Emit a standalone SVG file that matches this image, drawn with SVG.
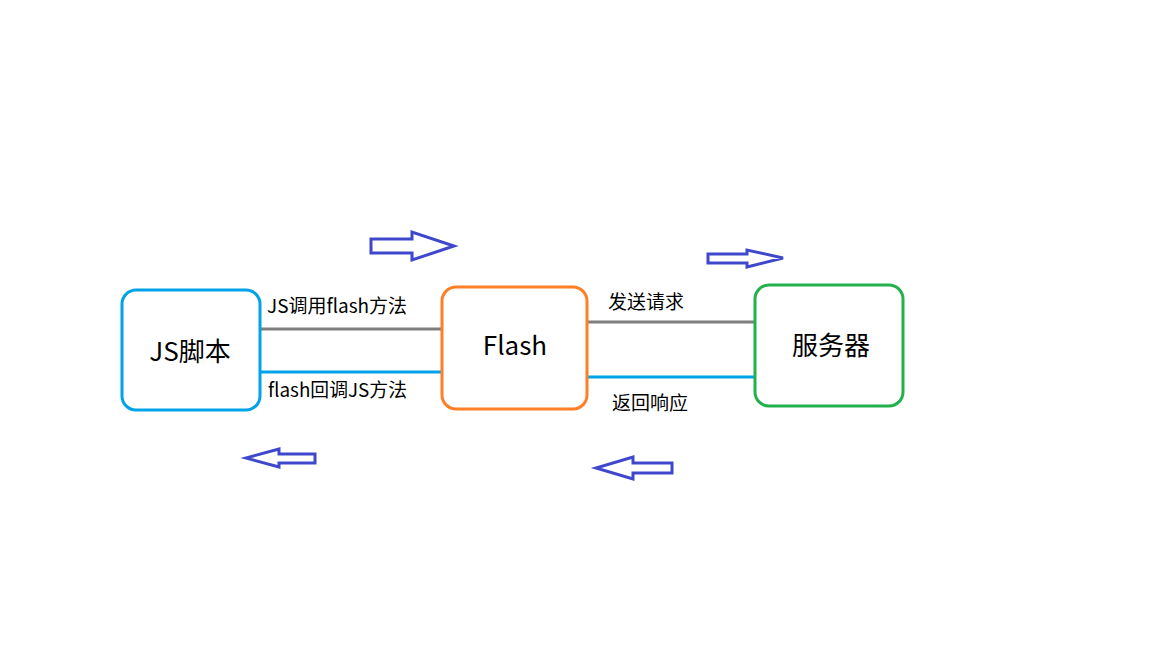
<svg xmlns="http://www.w3.org/2000/svg" width="1152" height="648" viewBox="0 0 1152 648">
<style>
.box{fill:#fff;stroke-width:3}
.lbl{font-family:"Microsoft YaHei","Noto Sans CJK SC","Noto Sans",sans-serif;fill:#000}
.big{font-size:26px;text-anchor:middle}
.small{font-size:19px}
.arr{fill:#fff;stroke:#3f48cc;stroke-width:3;stroke-linejoin:miter}
.req{stroke:#7f7f7f;stroke-width:3}
.res{stroke:#00a2e8;stroke-width:3}
</style>
<rect width="1152" height="648" fill="#fff"/>
<g id="connectors">
<line class="req" x1="261" y1="329" x2="442" y2="329"/>
<line class="res" x1="261" y1="372" x2="442" y2="372"/>
<line class="req" x1="587" y1="322" x2="755" y2="322"/>
<line class="res" x1="587" y1="377" x2="755" y2="377"/>
<text class="lbl small" x="267" y="313" textLength="140" lengthAdjust="spacingAndGlyphs">JS调用flash方法</text>
<text class="lbl small" x="268" y="397" textLength="139" lengthAdjust="spacingAndGlyphs">flash回调JS方法</text>
<text class="lbl small" x="608" y="309">发送请求</text>
<text class="lbl small" x="612" y="410">返回响应</text>
<polygon class="arr" points="371,239 412,239 412,232 454,246 412,260 412,253 371,253"/>
<polygon class="arr" points="708,254 747,254 747,250 783,258 747,267 747,263 708,263"/>
<polygon class="arr" points="315,454 279,454 279,449 246,458 279,467 279,463 315,463"/>
<polygon class="arr" points="672,463 633,463 633,457 596,468 633,479 633,473 672,473"/>
</g>
<g id="js">
<rect class="box" x="122" y="290" width="138" height="120" rx="14" stroke="#00a2e8"/>
<text class="lbl big" x="190" y="361">JS脚本</text>
</g>
<g id="flash">
<rect class="box" x="442" y="287" width="145" height="122" rx="14" stroke="#ff7f27"/>
<text class="lbl big" x="515" y="355">Flash</text>
</g>
<g id="server">
<rect class="box" x="755" y="285" width="148" height="121" rx="14" stroke="#22b14c"/>
<text class="lbl big" x="831" y="355">服务器</text>
</g>
</svg>
